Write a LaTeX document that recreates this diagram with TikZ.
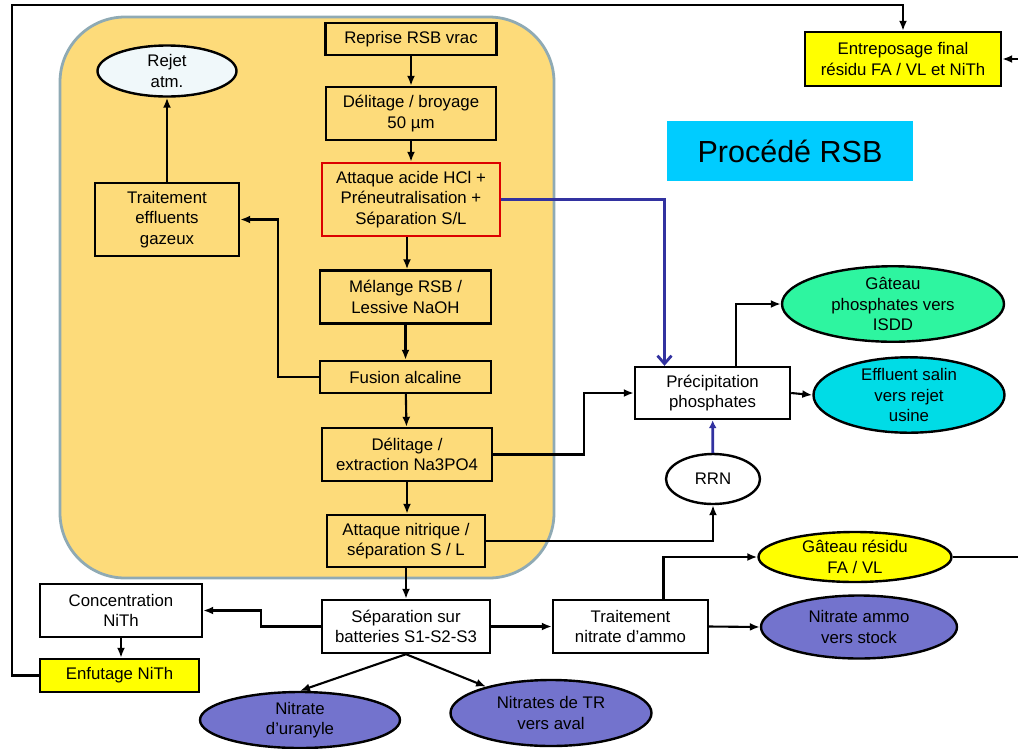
\documentclass[tikz,border=0pt]{standalone}
\usepackage{fontspec}
\setmainfont{Liberation Sans}
\usetikzlibrary{arrows.meta,shapes.geometric}
\definecolor{panel}{RGB}{253,219,122}
\definecolor{panelline}{RGB}{143,170,180}
\definecolor{jaune}{RGB}{255,255,0}
\definecolor{vert}{RGB}{46,245,160}
\definecolor{cyanclair}{RGB}{0,220,230}
\definecolor{violet}{RGB}{115,115,205}
\definecolor{titre}{RGB}{0,204,255}
\definecolor{bleu}{RGB}{50,50,160}
\definecolor{rouge}{RGB}{220,0,0}
\definecolor{ciel}{RGB}{240,248,250}

\begin{document}
\begin{tikzpicture}[x=1pt, y=-1pt,
    box/.style={draw, line width=2.4pt, align=center, inner sep=2pt, font=\fontsize{16.8}{20.5}\selectfont},
    oval/.style={draw, line width=2.4pt, shape=ellipse, align=center, inner sep=0pt, font=\fontsize{16.8}{20.5}\selectfont},
    flow/.style={line width=2.1pt, -{Latex[length=10pt,width=8pt]}},
    blueflow/.style={draw=bleu, line width=2.8pt, -{Straight Barb[length=8pt,width=14pt]}}]
        \useasboundingbox (0,0) rectangle (1018,748);
        % zone RSB
        \draw[fill=panel, draw=panelline, line width=2.8pt, rounded corners=65pt] (60,17) rectangle (554,578);
        \node[fill=titre, minimum width=246, minimum height=60, font=\fontsize{30.5}{36}\selectfont] (titre) at (790,151) {Procédé RSB};

        \node[box, minimum width=171, minimum height=32] (reprise) at (411,39) {Reprise RSB vrac};
        \node[box, minimum width=170, minimum height=53] (delbroy) at (411,113.5) {Délitage / broyage\\50 µm};
        \node[box, draw=rouge, minimum width=178, minimum height=73] (hcl) at (411,199.5) {Attaque acide HCl +\\Préneutralisation +\\Séparation S/L};
        \node[box, minimum width=171, minimum height=53] (melange) at (405.5,297) {Mélange RSB /\\Lessive NaOH};
        \node[box, minimum width=171, minimum height=32] (fusion) at (405.5,377) {Fusion alcaline};
        \node[box, minimum width=170, minimum height=53] (delext) at (407,454.5) {Délitage /\\extraction Na3PO4};
        \node[box, minimum width=158, minimum height=52] (atnit) at (406,541) {Attaque nitrique /\\séparation S / L};
        \node[box, minimum width=144, minimum height=73] (traitgaz) at (167,219.5) {Traitement\\effluents\\gazeux};
        \node[oval, fill=ciel, minimum width=139, minimum height=51] (rejet) at (167,71) {Rejet\\atm.};

        \node[box, fill=jaune, minimum width=196, minimum height=54] (entre) at (903,59) {Entreposage final\\résidu FA / VL et NiTh};
        \node[box, fill=white, minimum width=155, minimum height=52] (precip) at (712.5,393) {Précipitation\\phosphates};
        \node[oval, fill=vert, minimum width=222, minimum height=66] (gphos) at (893,304) {Gâteau\\phosphates vers\\ISDD};
        \node[oval, fill=cyanclair, minimum width=191, minimum height=66] (effl) at (909,395) {Effluent salin\\vers rejet\\usine};
        \node[oval, fill=white, minimum width=94, minimum height=50] (rrn) at (713,479) {RRN};

        \node[box, fill=white, minimum width=168, minimum height=53] (sep) at (406,626.5) {Séparation sur\\batteries S1-S2-S3};
        \node[box, fill=white, minimum width=162, minimum height=53] (conc) at (121,610.5) {Concentration\\NiTh};
        \node[box, fill=jaune, minimum width=159, minimum height=33] (enf) at (119.5,675.5) {Enfutage NiTh};
        \node[oval, fill=violet, minimum width=200, minimum height=56] (nuran) at (300,720) {Nitrate\\d’uranyle};
        \node[oval, fill=violet, minimum width=201, minimum height=66] (ntr) at (551,713) {Nitrates de TR\\vers aval};
        \node[box, fill=white, minimum width=155, minimum height=53] (traitam) at (630.5,626.5) {Traitement\\nitrate d’ammo};
        \node[oval, fill=jaune, minimum width=193, minimum height=50] (gres) at (855,557) {Gâteau résidu\\FA / VL};
        \node[oval, fill=violet, minimum width=196, minimum height=63] (nammo) at (859,627) {Nitrate ammo\\vers stock};

        \coordinate (coinhaut) at (12,5);
        \coordinate (sortie) at (1024,557);

        % liaisons
        \draw[flow] (reprise) -- (delbroy);
        \draw[flow] (delbroy) -- (hcl);
        \draw[flow] ([xshift=-4pt]hcl.south) -- ([xshift=-4pt]hcl.south |- melange.north);
        \draw[flow] (melange) -- (fusion);
        \draw[flow] (fusion) -- (delext);
        \draw[flow] (delext.south) -- (atnit.north -| delext.south);
        \draw[flow] (fusion.west) -- ++(-41,0) |- (traitgaz.east);
        \draw[flow] (traitgaz) -- (rejet);
        \draw[flow] (delext.east) -- ++(91,0) |- (precip.west);
        \draw[blueflow] (hcl.east) -| ([xshift=-48pt]precip.north);
        \draw[draw=bleu, line width=2.8pt, -{Latex[length=8pt,width=8pt]}] (rrn) -- (precip);
        \draw[flow] (atnit.east) -| (rrn.south);
        \draw[flow] ([xshift=23.5pt]precip.north) |- (gphos.west);
        \draw[flow] (precip.east) -- (effl.west);
        \draw[flow] (atnit) -- (sep);
        \draw[flow] (sep.west) -- ++(-60,0) |- (conc.east);
        \draw[flow] (conc.south) -- (enf.north -| conc.south);
        \draw[flow] (enf.west) -| (coinhaut) -| (entre.north);
        \draw[flow] (sep.south) -- (nuran.north);
        \draw[flow] (sep.south) -- (ntr);
        \draw[flow] (sep.east) -- (traitam.west);
        \draw[flow] ([xshift=33pt]traitam.north) |- (gres.west);
        \draw[flow] (traitam.east) -- (nammo.west);
        \draw[flow] (gres.east) -- (sortie) |- (entre.east);
\end{tikzpicture}
\end{document}
